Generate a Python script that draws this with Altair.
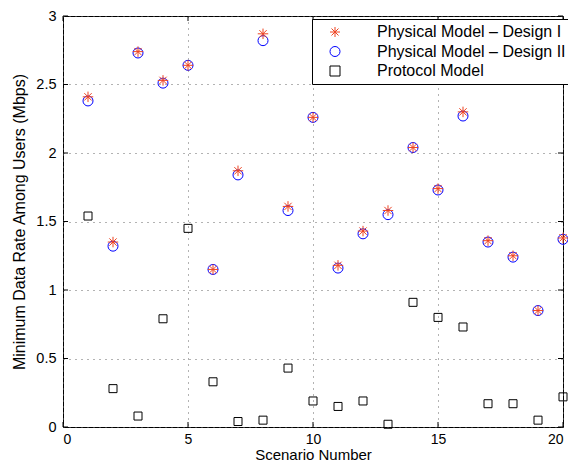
import altair as alt
import pandas as pd

scenarios = list(range(1, 21))
design1 = [2.41, 1.35, 2.74, 2.53, 2.64, 1.15, 1.87, 2.87, 1.61, 2.26,
           1.18, 1.43, 1.58, 2.04, 1.74, 2.30, 1.36, 1.25, 0.85, 1.38]
design2 = [2.38, 1.32, 2.73, 2.51, 2.64, 1.15, 1.84, 2.82, 1.58, 2.26,
           1.16, 1.41, 1.55, 2.04, 1.73, 2.27, 1.35, 1.24, 0.85, 1.37]
protocol = [1.54, 0.28, 0.08, 0.79, 1.45, 0.33, 0.04, 0.05, 0.43, 0.19,
            0.15, 0.19, 0.02, 0.91, 0.80, 0.73, 0.17, 0.17, 0.05, 0.22]

series_names = ["Physical Model \u2013 Design I", "Physical Model \u2013 Design II", "Protocol Model"]
series_colors = ["#ee4422", "#0000ff", "#000000"]
asterisk = "M0,-1L0,1M-1,0L1,0M-0.7,-0.7L0.7,0.7M-0.7,0.7L0.7,-0.7"
series_shapes = [asterisk, "circle", "square"]
x_ticks = [0, 5, 10, 15, 20]
y_ticks = [0, 0.5, 1, 1.5, 2, 2.5, 3]

rows = []
for name, vals in zip(series_names, [design1, design2, protocol]):
    for s, v in zip(scenarios, vals):
        rows.append({"scenario": s, "rate": v, "series": name})
df = pd.DataFrame(rows)

W, H = 500, 411
FONT = "Liberation Sans"

x_enc = alt.X("scenario:Q", scale=alt.Scale(domain=[0, 20], nice=False),
              axis=alt.Axis(values=x_ticks, title="Scenario Number", grid=True,
                            gridColor="#666", gridDash=[1, 5], domain=False, ticks=False,
                            labelFontSize=14, labelColor="black", labelPadding=5,
                            titleFontSize=15, titleFontWeight="normal", titleColor="black",
                            titlePadding=1))
y_enc = alt.Y("rate:Q", scale=alt.Scale(domain=[0, 3], nice=False),
              axis=alt.Axis(values=y_ticks, format=".1~f", title="Minimum Data Rate Among Users (Mbps)",
                            grid=True, gridColor="#666", gridDash=[1, 5], domain=False, ticks=False,
                            labelFontSize=14.5, labelColor="black", labelPadding=7,
                            titleFontSize=16, titleFontWeight="normal", titleColor="black",
                            titlePadding=8.5))

legend = alt.Legend(title=None, orient="none", legendX=249, legendY=3,
                    strokeColor="black", fillColor="white", padding=5,
                    labelFontSize=16, labelColor="black", labelOffset=34, labelLimit=400,
                    symbolSize=100, symbolOffset=10, symbolStrokeWidth=1, rowPadding=3.5,
                    cornerRadius=0)
color_enc = alt.Color("series:N", scale=alt.Scale(domain=series_names, range=series_colors), legend=legend)
shape_enc = alt.Shape("series:N", scale=alt.Scale(domain=series_names, range=series_shapes), legend=legend)

base = alt.Chart(df)
layers = []
for name, size in [(series_names[2], 64), (series_names[1], 100), (series_names[0], 110)]:
    layers.append(
        base.transform_filter(alt.datum.series == name)
        .mark_point(filled=False, size=size, strokeWidth=1, opacity=1)
        .encode(x=x_enc, y=y_enc, color=color_enc, shape=shape_enc)
    )

xt = pd.DataFrame({"scenario": x_ticks})
yt = pd.DataFrame({"rate": y_ticks})
tick_style = dict(color="black", strokeWidth=1)
ticks = [
    alt.Chart(xt).mark_rule(**tick_style).encode(x=x_enc, y=alt.value(H), y2=alt.value(H - 5)),
    alt.Chart(xt).mark_rule(**tick_style).encode(x=x_enc, y=alt.value(0), y2=alt.value(5)),
    alt.Chart(yt).mark_rule(**tick_style).encode(y=y_enc, x=alt.value(0), x2=alt.value(5)),
    alt.Chart(yt).mark_rule(**tick_style).encode(y=y_enc, x=alt.value(W), x2=alt.value(W - 5)),
]

chart = alt.layer(*ticks, *layers).properties(
    width=W, height=H,
    padding={"left": 55, "top": 8, "right": 5, "bottom": 39},
    autosize="none",
).configure(font=FONT).configure_view(stroke="black", strokeWidth=1)

chart.save("out.html", embed_options={"renderer": "svg", "actions": False})
